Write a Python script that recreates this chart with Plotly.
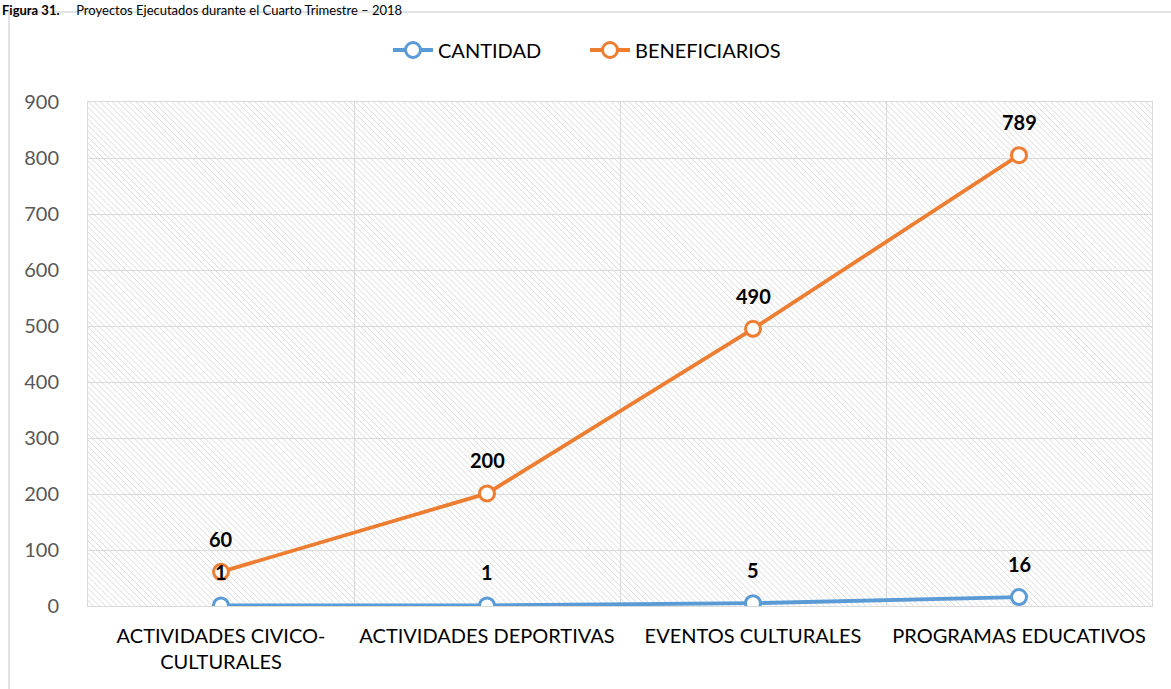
import base64
import numpy as np
import plotly.graph_objects as go

# Categories and series values
categorias = [
    "ACTIVIDADES CIVICO-<br>CULTURALES",
    "ACTIVIDADES DEPORTIVAS",
    "EVENTOS CULTURALES",
    "PROGRAMAS EDUCATIVOS",
]
cantidad = [1, 1, 5, 16]
beneficiarios = [60, 200, 490, 789]
y_ticks = [0, 100, 200, 300, 400, 500, 600, 700, 800, 900]

AZUL = "#5B9BD5"
NARANJA = "#ED7D31"
FONT = "Lato, 'Open Sans', sans-serif"

W, H = 1171, 689
L, R, T, B = 88, 19, 102, 83
PW, PH = W - L - R, H - T - B


def px_x(px):
    return (px - L) / PW


def px_y(py):
    return (H - B - py) / PH


fig = go.Figure()

for nombre, valores, color in [("CANTIDAD", cantidad, AZUL), ("BENEFICIARIOS", beneficiarios, NARANJA)]:
    fig.add_trace(go.Scatter(
        x=categorias, y=valores, name=nombre, mode="lines+markers",
        stackgroup="uno", fill="none",
        line=dict(color=color, width=3.8),
        marker=dict(symbol="circle", size=15, color="white",
                    line=dict(color=color, width=3)),
    ))

# Data labels above each (stacked) point
acumulado = np.zeros(len(categorias))
for valores in [cantidad, beneficiarios]:
    acumulado = acumulado + np.array(valores)
    for cat, v, ypos in zip(categorias, valores, acumulado):
        fig.add_annotation(x=cat, y=float(ypos), text=f"<b>{v}</b>", showarrow=False,
                           yshift=33, xanchor="center", yanchor="middle",
                           font=dict(family=FONT, size=20, color="#000000"))

# Diagonal hatch behind the plot area
svg = (
    f'<svg xmlns="http://www.w3.org/2000/svg" width="{PW}" height="{PH}">'
    '<defs><pattern id="h" width="4.2" height="4.2" patternUnits="userSpaceOnUse" '
    'patternTransform="rotate(-45)">'
    '<line x1="0" y1="0" x2="0" y2="4.2" stroke="#d2d2d2" stroke-width="1.2"/>'
    '</pattern></defs><rect width="100%" height="100%" fill="url(#h)"/></svg>'
)
src = "data:image/svg+xml;base64," + base64.b64encode(svg.encode()).decode()
fig.add_layout_image(dict(source=src, xref="paper", yref="paper", x=0, y=1,
                          sizex=1, sizey=1, sizing="stretch", xanchor="left",
                          yanchor="top", layer="below"))

# Outer frame of the chart
fig.add_shape(type="rect", xref="paper", yref="paper",
              x0=px_x(9), x1=px_x(W + 5), y0=px_y(H + 5), y1=px_y(12),
              line=dict(color="#d9d9d9", width=1.5), fillcolor="rgba(0,0,0,0)")

# Caption above the frame
fig.add_annotation(xref="paper", yref="paper", x=px_x(0), y=px_y(0),
                   xanchor="left", yanchor="top", showarrow=False,
                   text="<b>Figura 31.</b>     Proyectos Ejecutados durante el Cuarto Trimestre – 2018",
                   font=dict(family=FONT, size=13, color="#000000"))

fig.update_layout(
    width=W, height=H,
    margin=dict(l=L, r=R, t=T, b=B, pad=0),
    paper_bgcolor="white",
    plot_bgcolor="rgba(0,0,0,0)",
    font=dict(family=FONT, size=20, color="#000000"),
    showlegend=True,
    legend=dict(orientation="h", x=px_x(388), y=px_y(50), xanchor="left",
                yanchor="middle", font=dict(family=FONT, size=20, color="#000000"),
                itemwidth=40, entrywidth=142, entrywidthmode="pixels",
                bgcolor="rgba(0,0,0,0)", traceorder="normal"),
    xaxis=dict(type="category", range=[-0.5, 3.5], tickson="boundaries",
               showgrid=True, gridcolor="#d9d9d9", gridwidth=1,
               showline=True, linecolor="#d9d9d9", linewidth=1, mirror=True,
               ticks="", ticklabelstandoff=12,
               tickfont=dict(family=FONT, size=20, color="#000000"),
               zeroline=False, fixedrange=True),
    yaxis=dict(range=[0, 900], tickvals=y_ticks, ticktext=[str(t) for t in y_ticks],
               showgrid=True, gridcolor="#d9d9d9", gridwidth=1,
               showline=True, linecolor="#d9d9d9", linewidth=1, mirror=True,
               ticks="outside", ticklen=24, tickcolor="rgba(0,0,0,0)",
               tickfont=dict(family=FONT, size=20, color="#595959"),
               zeroline=False),
)

fig.write_html("out.html")
